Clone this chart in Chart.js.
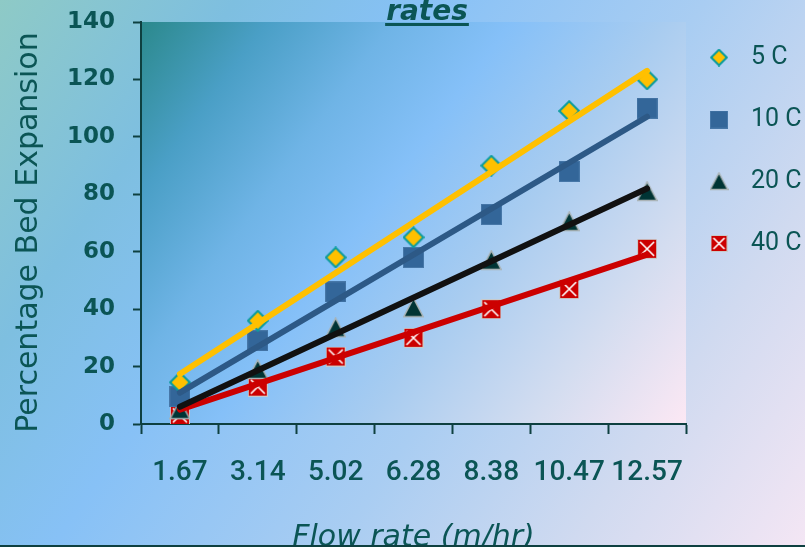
<!DOCTYPE html>
<html>
<head>
<meta charset="utf-8">
<script src="https://cdn.jsdelivr.net/npm/chart.js@4.4.1/dist/chart.umd.min.js"></script>
<style>
  html, body { margin: 0; padding: 0; background: #ffffff; }
  #wrap { width: 805px; height: 547px; }
</style>
</head>
<body>
<div id="wrap"><canvas id="chart" width="805" height="547"></canvas></div>
<script>
// Flow rates (m/hr) on the category axis
const flowRates = ['1.67', '3.14', '5.02', '6.28', '8.38', '10.47', '12.57'];

// Measured bed expansion (%) per temperature
const exp5C  = [14.5, 36, 58, 65, 90, 109, 120];
const exp10C = [9.5, 29, 46, 58, 73, 88, 110];
const exp20C = [5, 19, 33.5, 40.5, 57, 70.5, 81];
const exp40C = [3, 13, 23.5, 30, 40, 47, 61];

// Linear trend lines: value at the lowest and at the highest flow rate
const trend5C  = [17.4, 123];
const trend10C = [10.9, 107];
const trend20C = [6.0, 82];
const trend40C = [5, 59];

const seriesNames = ['5 C', '10 C', '20 C', '40 C'];
const chartTitle = 'rates';
const xTitle = 'Flow rate (m/hr)';
const yTitle = 'Percentage Bed Expansion  ';

const textCol = '#0b5555';
const axisCol = '#0e4040';

// ---- marker sprites ----
function sprite(size, paint) {
  const c = document.createElement('canvas');
  c.width = size; c.height = size;
  paint(c.getContext('2d'), size);
  return c;
}
function diamondMark(size) {
  return sprite(size, (g, s) => {
    const m = s / 2, r = s / 2 - 1.2;
    g.beginPath();
    g.moveTo(m, m - r); g.lineTo(m + r, m); g.lineTo(m, m + r); g.lineTo(m - r, m);
    g.closePath();
    g.fillStyle = '#ffc000'; g.fill();
    g.lineWidth = 2; g.strokeStyle = '#0a9c9c'; g.stroke();
  });
}
function squareMark(size) {
  return sprite(size, (g, s) => {
    g.fillStyle = '#336699'; g.fillRect(0, 0, s, s);
    g.lineWidth = 1; g.strokeStyle = '#4677a8'; g.strokeRect(0.5, 0.5, s - 1, s - 1);
  });
}
function triangleMark(size) {
  return sprite(size, (g, s) => {
    g.beginPath();
    g.moveTo(s / 2, 1); g.lineTo(s - 0.8, s - 1.5); g.lineTo(0.8, s - 1.5);
    g.closePath();
    g.fillStyle = '#003434'; g.fill();
    g.lineWidth = 1.5; g.strokeStyle = '#a9b2b4'; g.stroke();
  });
}
function crossBoxMark(size) {
  return sprite(size, (g, s) => {
    g.fillStyle = '#cc0000'; g.fillRect(0, 0, s, s);
    g.lineWidth = 1; g.strokeStyle = '#c9c9c9'; g.strokeRect(0.5, 0.5, s - 1, s - 1);
    g.beginPath();
    g.moveTo(3, 3); g.lineTo(s - 3, s - 3);
    g.moveTo(s - 3, 3); g.lineTo(3, s - 3);
    g.lineWidth = 1.6; g.strokeStyle = '#ffffff'; g.stroke();
  });
}

const plotMarks = [diamondMark(22), squareMark(21), triangleMark(21), crossBoxMark(20)];
const legendMarks = [diamondMark(18), squareMark(18), triangleMark(19), crossBoxMark(17)];

const measured = [exp5C, exp10C, exp20C, exp40C];
const trends = [trend5C, trend10C, trend20C, trend40C];
const trendColors = ['#ffc000', '#2d5986', '#111111', '#cc0000'];

const datasets = [];
measured.forEach((vals, i) => {
  datasets.push({
    label: seriesNames[i],
    data: vals,
    showLine: false,
    pointStyle: plotMarks[i],
    pointRadius: 10,
    pointHoverRadius: 10,
    borderWidth: 0,
    order: 2
  });
});
trends.forEach((ends, i) => {
  datasets.push({
    label: seriesNames[i] + ' trend',
    data: [
      { x: flowRates[0], y: ends[0] },
      { x: flowRates[flowRates.length - 1], y: ends[1] }
    ],
    borderColor: trendColors[i],
    borderWidth: 6,
    borderCapStyle: 'round',
    pointRadius: 0,
    pointHoverRadius: 0,
    fill: false,
    tension: 0,
    order: 1
  });
});

// ---- plugins ----
const backdrop = {
  id: 'backdrop',
  beforeDraw(chart) {
    const { ctx, width, height, chartArea: a } = chart;
    ctx.save();
    const g = ctx.createLinearGradient(0, 0, width, height);
    g.addColorStop(0, '#8ecac6');
    g.addColorStop(0.2, '#7ebfe0');
    g.addColorStop(0.36, '#87c1f6');
    g.addColorStop(0.6, '#a9cdf2');
    g.addColorStop(0.8, '#d0daf0');
    g.addColorStop(1, '#f4e6f4');
    ctx.fillStyle = g;
    ctx.fillRect(0, 0, width, height);

    const p = ctx.createLinearGradient(a.left, a.top, a.right, a.bottom);
    p.addColorStop(0, '#2b898c');
    p.addColorStop(0.15, '#4a9fc6');
    p.addColorStop(0.3, '#6fb4e6');
    p.addColorStop(0.44, '#85c0f8');
    p.addColorStop(0.62, '#a8ccf0');
    p.addColorStop(0.82, '#d4ddf0');
    p.addColorStop(1, '#fce8f4');
    ctx.fillStyle = p;
    ctx.fillRect(a.left, a.top, a.right - a.left, a.bottom - a.top);
    ctx.restore();
  }
};

const legendPlacement = {
  id: 'legendPlacement',
  afterLayout(chart) {
    const lg = chart.legend;
    if (!lg) return;
    const dx = 23.5, dy = 14;
    lg.left -= dx; lg.width += dx;
    lg.top -= dy; lg.height += dy;
  }
};

const heading = {
  id: 'heading',
  afterDraw(chart) {
    const { ctx, width, height } = chart;
    ctx.save();
    ctx.font = 'italic bold 28px "DejaVu Sans"';
    ctx.fillStyle = textCol;
    ctx.textAlign = 'center';
    ctx.textBaseline = 'alphabetic';
    const cx = 427, base = 20;
    ctx.fillText(chartTitle, cx, base);
    const w = ctx.measureText(chartTitle).width;
    ctx.fillRect(cx - w / 2 - 1, base + 3, w + 2, 3);
    // frame line along the bottom edge
    ctx.fillStyle = axisCol;
    ctx.fillRect(0, height - 2, width, 2);
    ctx.restore();
  }
};

new Chart(document.getElementById('chart'), {
  type: 'line',
  data: { labels: flowRates, datasets },
  options: {
    responsive: false,
    devicePixelRatio: 1,
    animation: false,
    layout: { padding: { top: 22, left: 0, right: 0, bottom: 0 } },
    plugins: {
      tooltip: { enabled: false },
      title: { display: false },
      legend: {
        position: 'right',
        align: 'start',
        maxWidth: 119,
        labels: {
          usePointStyle: true,
          pointStyleWidth: 39,
          padding: 37,
          color: textCol,
          font: { family: 'Roboto', size: 25 },
          generateLabels(chart) {
            const items = Chart.defaults.plugins.legend.labels.generateLabels(chart);
            return items
              .filter(it => it.datasetIndex < seriesNames.length)
              .map(it => Object.assign({}, it, { pointStyle: legendMarks[it.datasetIndex], text: seriesNames[it.datasetIndex] }));
          }
        }
      }
    },
    scales: {
      x: {
        type: 'category',
        offset: true,
        afterFit(s) { s.height = 123; },
        grid: {
          offset: true, drawOnChartArea: false, drawTicks: true,
          tickLength: 10, tickWidth: 2, tickColor: axisCol
        },
        border: { display: true, color: axisCol, width: 2 },
        ticks: {
          color: textCol, autoSkip: false, maxRotation: 0, padding: 22,
          font: { family: 'Roboto', size: 28, weight: 500 }
        },
        title: {
          display: true, text: xTitle, color: textCol,
          font: { family: 'DejaVu Sans', size: 30, style: 'italic', lineHeight: 0.56 },
          padding: { top: 0, bottom: 0 }
        }
      },
      y: {
        min: 0, max: 140,
        afterFit(s) { s.width = 141; s.paddingTop = 10; s.paddingBottom = 10; },
        grid: {
          drawOnChartArea: false, drawTicks: true,
          tickLength: 8, tickWidth: 2, tickColor: axisCol
        },
        border: { display: true, color: axisCol, width: 2 },
        ticks: {
          stepSize: 20, color: textCol, padding: 18,
          font: { family: 'DejaVu Sans', size: 23, weight: 'bold' }
        },
        title: {
          display: true, text: yTitle, color: textCol,
          font: { family: 'DejaVu Sans', size: 30 },
          padding: { top: 11.5, bottom: 0 }
        }
      }
    }
  },
  plugins: [backdrop, legendPlacement, heading]
});
</script>
</body>
</html>
